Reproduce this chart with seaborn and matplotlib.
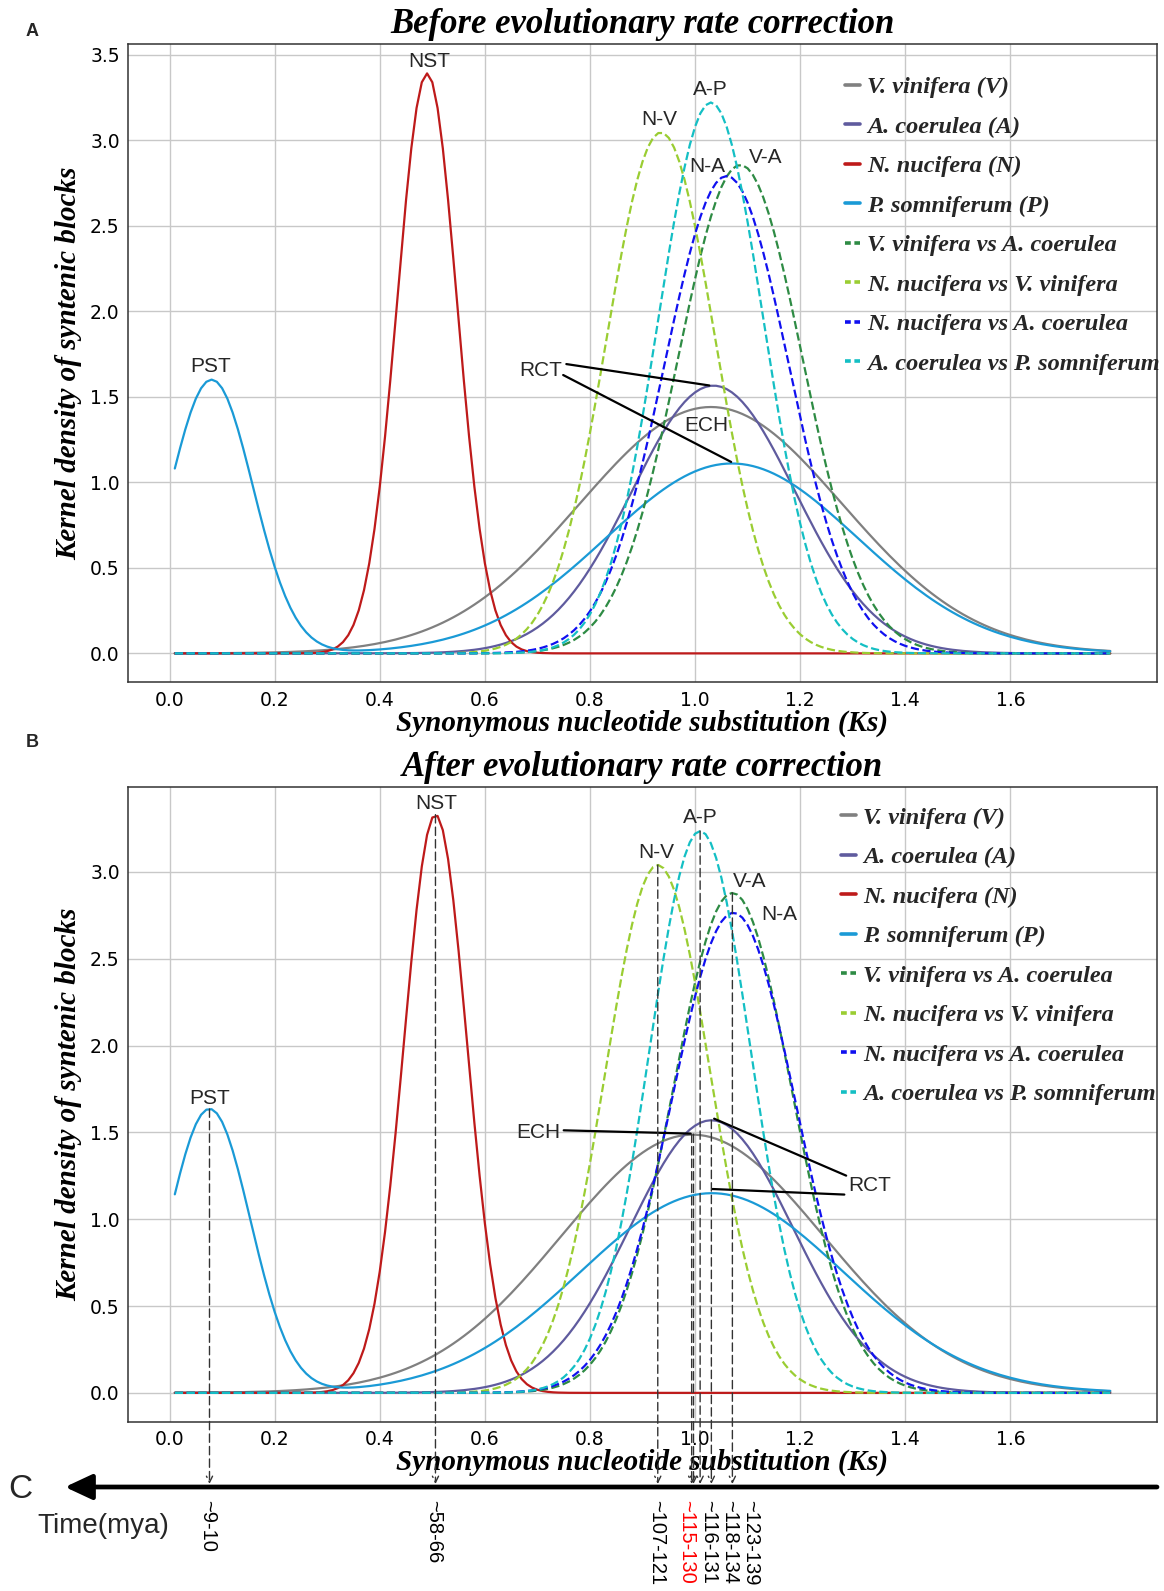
import numpy as np
import matplotlib
matplotlib.use('Agg')
import matplotlib.pyplot as plt
import matplotlib.transforms as mtransforms
from matplotlib.lines import Line2D
from matplotlib.font_manager import FontProperties
import seaborn as sns

# Ks axis sampled like the original fitting script (0.01 step)
ks = np.arange(0.01, 1.8, 0.01)

species = ['V. vinifera (V)', 'A. coerulea (A)', 'N. nucifera (N)', 'P. somniferum (P)',
           'V. vinifera vs A. coerulea', 'N. nucifera vs V. vinifera',
           'N. nucifera vs A. coerulea', 'A. coerulea vs P. somniferum']
colors = ['#808080', '#5f5b9e', '#be1a1a', '#1a9ad6', '#2e8b44', '#9acd32', '#1010f0', '#14bfc4']
styles = ['-', '-', '-', '-', '--', '--', '--', '--']

# fitted gaussian peaks: centre, width, height per curve
before_center = [[1.03], [1.035], [0.49], [0.08, 1.07], [1.086], [0.935], [1.06], [1.03]]
before_width = [[0.25], [0.155], [0.057], [0.079, 0.24], [0.118], [0.103], [0.118], [0.10]]
before_height = [[1.44], [1.565], [3.39], [1.60, 1.11], [2.855], [3.045], [2.79], [3.22]]

after_center = [[0.995], [1.031], [0.506], [0.076, 1.032], [1.071], [0.929], [1.073], [1.0096]]
after_width = [[0.25], [0.155], [0.06], [0.078, 0.25], [0.113], [0.10], [0.118], [0.097]]
after_height = [[1.487], [1.57], [3.33], [1.635, 1.15], [2.879], [3.04], [2.765], [3.236]]

# peak tags (text, ks, density)
before_tags = [('PST', 0.078, 1.675), ('NST', 0.495, 3.46), ('N-V', 0.932, 3.12),
               ('A-P', 1.029, 3.293), ('N-A', 1.023, 2.846), ('V-A', 1.134, 2.897),
               ('ECH', 1.021, 1.331), ('RCT', 0.706, 1.656)]
after_tags = [('PST', 0.076, 1.693), ('NST', 0.508, 3.393), ('N-V', 0.927, 3.11),
              ('A-P', 1.0095, 3.313), ('V-A', 1.103, 2.945), ('N-A', 1.16, 2.757),
              ('ECH', 0.702, 1.50), ('RCT', 1.332, 1.193)]
# pointer lines from tags to peaks (start ks, start y, end ks, end y)
before_pointers = [(0.755, 1.691, 1.027, 1.566), (0.749, 1.627, 1.0686, 1.119)]
after_pointers = [(0.750, 1.512, 0.9916, 1.493), (1.2875, 1.251, 1.0363, 1.579),
                  (1.284, 1.142, 1.0331, 1.174)]

# peaks dropped onto the time axis
link_ks = [0.076, 0.506, 0.929, 0.9935, 0.997, 1.0096, 1.031, 1.071]
link_top = [1.635, 3.33, 3.04, 1.49, 1.49, 3.236, 1.57, 2.879]
time_ks = [0.072, 0.503, 0.927, 0.984, 1.025, 1.066, 1.105]
time_text = ['~9-10', '~58-66', '~107-121', '~115-130', '~116-131', '~118-134', '~123-139']
time_color = ['black', 'black', 'black', 'red', 'black', 'black', 'black']


def density(centers, widths, heights):
    y = np.zeros_like(ks)
    for c, w, h in zip(centers, widths, heights):
        y += h * np.exp(-(ks - c) ** 2 / (2 * w ** 2))
    return y


sns.set_style('whitegrid', {'grid.color': '#c8c8c8', 'axes.edgecolor': '#333333'})
plt.rcParams['axes.linewidth'] = 1.1
plt.rcParams['grid.linewidth'] = 1.0

serif_bi = dict(family='Liberation Serif', weight='bold', style='italic')
title_font = FontProperties(size=25, **serif_bi)
label_font = FontProperties(size=21, **serif_bi)
legend_font = FontProperties(size=17.5, **serif_bi)

fig = plt.figure(figsize=(11.64, 15.91), dpi=100)
ax_a = fig.add_axes([0.110, 0.5711, 0.884, 0.401])
ax_b = fig.add_axes([0.110, 0.1064, 0.884, 0.3989])


def draw_panel(ax, centers, widths, heights, tags, pointers, title, leg_anchor):
    for i in range(len(species)):
        sns.lineplot(x=ks, y=density(centers[i], widths[i], heights[i]), ax=ax,
                     color=colors[i], linestyle=styles[i], linewidth=1.6, legend=False)
    ax.set_xticks(np.arange(0, 1.7, 0.2))
    ax.tick_params(labelsize=13.5, pad=6, length=0, colors='black')
    ax.set_xlabel('Synonymous nucleotide substitution (Ks)', fontproperties=label_font,
                  labelpad=0, color='black')
    ax.set_ylabel('Kernel density of syntenic blocks', fontproperties=label_font,
                  labelpad=6, color='black')
    ax.set_title(title, fontproperties=title_font, pad=8, color='black')
    for t, x, y in tags:
        ax.text(x, y, t, ha='center', va='center', fontsize=15, family='Liberation Sans')
    for x0, y0, x1, y1 in pointers:
        ax.annotate('', xy=(x1, y1), xytext=(x0, y0),
                    arrowprops=dict(arrowstyle='-', color='black', lw=1.6, shrinkA=0, shrinkB=0))
    handles = [Line2D([0], [0], color=c, lw=2.6, ls='-' if s == '-' else (0, (1.6, 1.0)))
               for c, s in zip(colors, styles)]
    ax.legend(handles, species, loc='upper left', bbox_to_anchor=leg_anchor, frameon=False,
              prop=legend_font, handlelength=0.6, handletextpad=0.3, labelspacing=0.72,
              borderaxespad=0, borderpad=0)


draw_panel(ax_a, before_center, before_width, before_height, before_tags, before_pointers,
           'Before evolutionary rate correction', (0.697, 0.950))
draw_panel(ax_b, after_center, after_width, after_height, after_tags, after_pointers,
           'After evolutionary rate correction', (0.693, 0.969))

# time axis (panel C)
H = 1591
ax_b.annotate('', xy=(65, H - 1487), xycoords='figure pixels', xytext=(1157, H - 1487),
              textcoords='figure pixels', annotation_clip=False,
              arrowprops=dict(arrowstyle='-|>,head_length=0.75,head_width=0.35', lw=3.4,
                              color='black', shrinkA=0, shrinkB=0, mutation_scale=22))
for k, top in zip(link_ks, link_top):
    ax_b.annotate('', xy=(k, H - 1484), xycoords=('data', 'figure pixels'), xytext=(k, top),
                  textcoords='data', annotation_clip=False,
                  arrowprops=dict(arrowstyle='->,head_length=0.45,head_width=0.22', lw=1.0,
                                  linestyle=(0, (6, 3)), color='#333333', shrinkA=0, shrinkB=0))
trans = mtransforms.blended_transform_factory(ax_b.transData, fig.transFigure)
for k, t, c in zip(time_ks, time_text, time_color):
    ax_b.text(k, 1 - 1500 / H, t, transform=trans, rotation=-90, ha='center', va='top',
              fontsize=14.5, color=c, family='Liberation Sans', clip_on=False)

fig.text(32.5 / 1164, 1 - 31.7 / H, 'A', ha='center', va='center', fontsize=13, weight='bold',
         family='Liberation Sans')
fig.text(32.5 / 1164, 1 - 742 / H, 'B', ha='center', va='center', fontsize=13, weight='bold',
         family='Liberation Sans')
fig.text(20 / 1164, 1 - 1490 / H, 'C', ha='center', va='center', fontsize=24,
         family='Liberation Sans')
fig.text(103 / 1164, 1 - 1526 / H, 'Time(mya)', ha='center', va='center', fontsize=20,
         family='Liberation Sans')

fig.savefig('out.png', dpi=100)
